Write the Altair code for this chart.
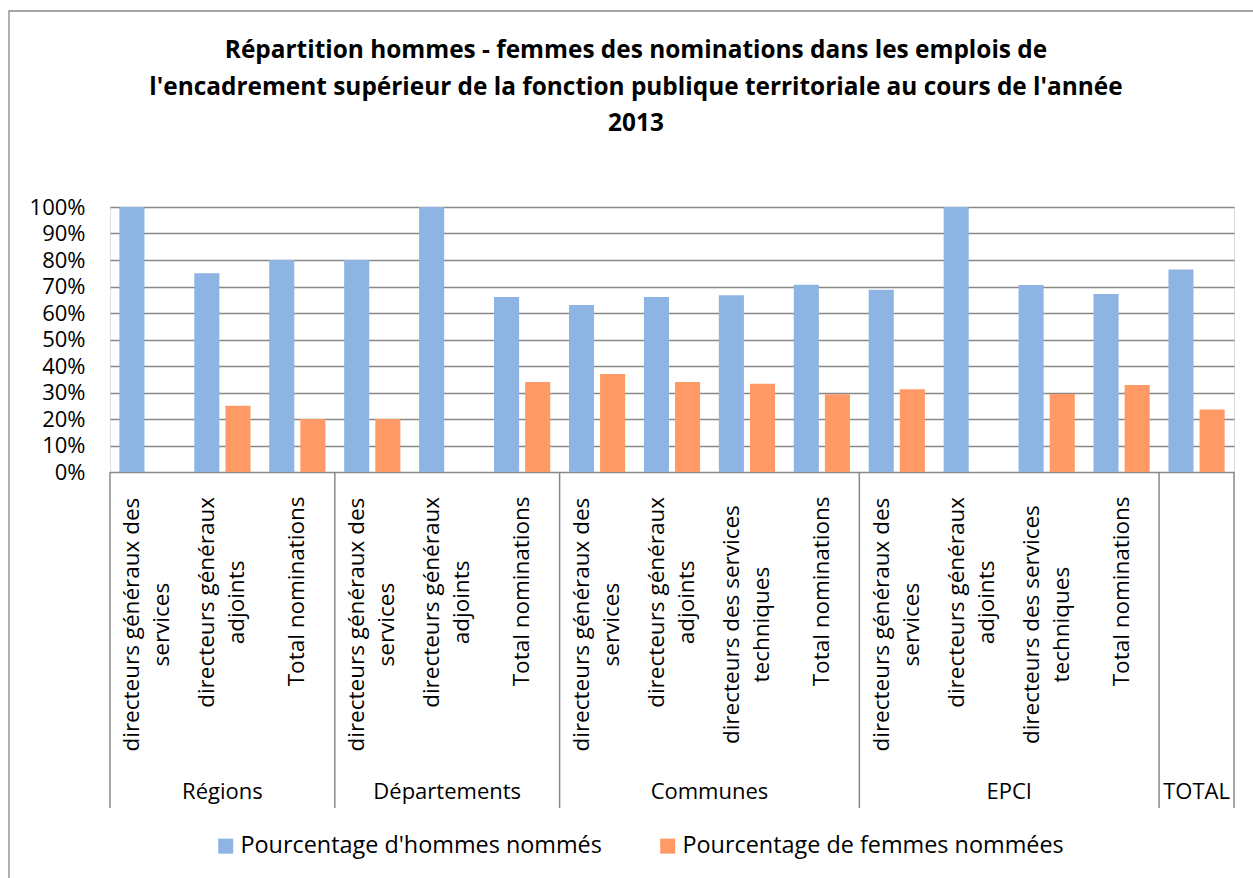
import altair as alt
import pandas as pd

# ---------------- data ----------------
title_lines = [
    "Répartition hommes - femmes des nominations dans les emplois de",
    "l'encadrement supérieur de la fonction publique territoriale au cours de l'année",
    "2013",
]
groups = ["Régions", "Départements", "Communes", "EPCI", "TOTAL"]
group_sizes = [3, 3, 4, 4, 1]
categories = [
    "directeurs généraux des\nservices", "directeurs généraux\nadjoints", "Total nominations",
    "directeurs généraux des\nservices", "directeurs généraux\nadjoints", "Total nominations",
    "directeurs généraux des\nservices", "directeurs généraux\nadjoints",
    "directeurs des services\ntechniques", "Total nominations",
    "directeurs généraux des\nservices", "directeurs généraux\nadjoints",
    "directeurs des services\ntechniques", "Total nominations",
    "",
]
series = ["Pourcentage d'hommes nommés", "Pourcentage de femmes nommées"]
men = [1.00, 0.75, 0.80, 0.80, 1.00, 0.66, 0.63, 0.66, 0.667, 0.707, 0.688, 1.00, 0.706, 0.672, 0.764]
women = [0.00, 0.25, 0.20, 0.20, 0.00, 0.34, 0.37, 0.34, 0.333, 0.293, 0.312, 0.00, 0.294, 0.328, 0.236]
colors = ["#8EB4E3", "#FF9A66"]
y_ticks = [0, 0.1, 0.2, 0.3, 0.4, 0.5, 0.6, 0.7, 0.8, 0.9, 1.0]

FONT = "Open Sans"
GRAY = "#888888"
W, H = 1124, 265
N = len(categories)
LH = 30  # line height of category labels

# ---------------- tables ----------------
keys = [f"c{i:02d}" for i in range(N)]
bars_df = pd.DataFrame(
    [{"key": k, "serie": series[0], "value": v} for k, v in zip(keys, men)]
    + [{"key": k, "serie": series[1], "value": v} for k, v in zip(keys, women)]
)
labels_df = pd.DataFrame({
    "pos": [i + 0.5 for i in range(N)],
    "label": categories,
    "longest": [max(len(s) for s in c.split("\n")) for c in categories],
    "nlines": [len(c.split("\n")) for c in categories],
})
bounds = [0]
for s in group_sizes:
    bounds.append(bounds[-1] + s)
groups_df = pd.DataFrame({
    "group": groups,
    "pos": [(bounds[i] + bounds[i + 1]) / 2 for i in range(len(groups))],
})
sep_df = pd.DataFrame({"pos": bounds})
title_df = pd.DataFrame({"t": ["\n".join(title_lines)]})
frame_df = pd.DataFrame({"a": [0]})

xq = alt.X("pos:Q", scale=alt.Scale(domain=[0, N], nice=False, zero=False), axis=None)

# ---------------- layers ----------------
frame = alt.Chart(frame_df).mark_rect(
    fillOpacity=0, stroke=GRAY, strokeWidth=1.3
).encode(
    x=alt.value(9 - 110), x2=alt.value(1300 - 110),
    y=alt.value(11 - 207), y2=alt.value(900 - 207),
)

bars = alt.Chart(bars_df).mark_bar().encode(
    x=alt.X("key:N", sort=keys, axis=None,
            scale=alt.Scale(paddingInner=0.25, paddingOuter=0.125)),
    xOffset=alt.XOffset("serie:N", sort=series, scale=alt.Scale(paddingInner=0.194)),
    y=alt.Y("value:Q", scale=alt.Scale(domain=[0, 1], nice=False),
            axis=alt.Axis(values=y_ticks, format=".0%", title=None, ticks=False,
                          domain=False, grid=True, gridColor=GRAY, gridWidth=1.5,
                          labelFont=FONT, labelFontSize=22, labelColor="black",
                          labelPadding=25)),
    color=alt.Color("serie:N", sort=series,
                    scale=alt.Scale(domain=series, range=colors),
                    legend=alt.Legend(orient="none", legendX=104, legendY=627,
                                      direction="horizontal", title=None,
                                      symbolType="square", symbolSize=225,
                                      symbolStrokeWidth=0, labelFont=FONT,
                                      labelFontSize=23.4, labelColor="black",
                                      labelLimit=0, labelOffset=3, columnPadding=54)),
)

cat_labels = alt.Chart(labels_df).mark_text(
    font=FONT, fontSize=22.5, angle=270, align="center", baseline="middle",
    lineBreak="\n", lineHeight=LH, color="black",
).transform_calculate(
    cy="290 + datum.longest * 11.1 / 2",
    px=f"datum.pos - (datum.nlines - 1) * {LH / 2} / {W / N}",
).encode(
    x=alt.X("px:Q", scale=alt.Scale(domain=[0, N], nice=False, zero=False), axis=None),
    y=alt.Y("cy:Q", scale=alt.Scale(domain=[0, H], range=[0, H], nice=False, zero=False),
            axis=None),
    text="label:N",
)

seps = alt.Chart(sep_df).mark_rule(color=GRAY, strokeWidth=1.5).encode(
    x=xq, y=alt.value(H), y2=alt.value(601),
)

group_labels = alt.Chart(groups_df).mark_text(
    font=FONT, fontSize=22, baseline="middle", align="center", color="black",
).encode(x=xq, y=alt.value(585), text="group:N")

title = alt.Chart(title_df).mark_text(
    font=FONT, fontSize=24.4, fontWeight="bold", align="center", baseline="middle",
    lineBreak="\n", lineHeight=36.5, color="black",
).encode(x=alt.value(636 - 110), y=alt.value(51 - 207), text="t:N")

chart = alt.layer(frame, bars, cat_labels, seps, group_labels, title).resolve_scale(
    x="independent", y="independent"
).properties(
    width=W, height=H,
    autosize=alt.AutoSizeParams(type="none"),
    padding={"left": 110, "top": 207, "right": 1253 - 110 - W, "bottom": 878 - 207 - H},
).configure_view(stroke=None).configure(font=FONT)

chart.save("out.html", embed_options={"renderer": "svg", "actions": False})
